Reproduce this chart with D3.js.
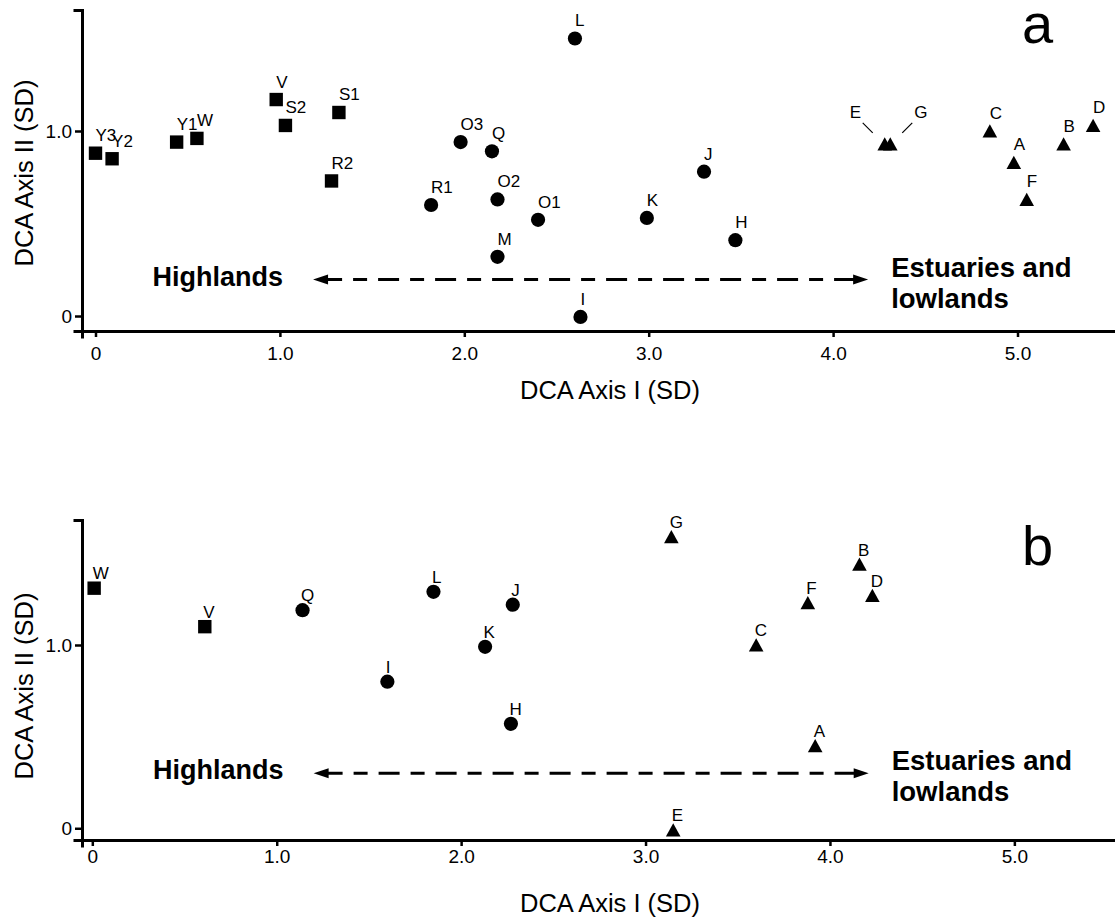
<!DOCTYPE html>
<html>
<head>
<meta charset="utf-8">
<script src="https://cdn.jsdelivr.net/npm/d3@7"></script>
<style>
  body { margin: 0; background: #fff; }
  text { font-family: "Liberation Sans", Arial, sans-serif; fill: #000; }
  .axis .domain { stroke-width: 3; stroke-linecap: square; }
  .axis .tick line { stroke-width: 2.5; }
  .axis .tick text { font-size: 19px; }
</style>
</head>
<body>
<div id="chart"></div>
<script>
// ---- panel a : all sites ----
var siteA  = ["Y3","Y2","Y1","W","V","S2","S1","R2",
              "L","O3","Q","R1","O2","O1","M","I","K","J","H",
              "E","G","C","A","F","B","D"];
var axis1A = [0.00,0.09,0.44,0.55,0.98,1.03,1.32,1.28,
              2.60,1.98,2.15,1.82,2.18,2.40,2.18,2.63,2.99,3.30,3.47,
              4.28,4.31,4.85,4.98,5.05,5.25,5.41];
var axis2A = [0.88,0.85,0.94,0.96,1.17,1.03,1.10,0.73,
              1.50,0.94,0.89,0.60,0.63,0.52,0.32,-0.005,0.53,0.78,0.41,
              0.93,0.93,1.00,0.83,0.63,0.93,1.03];
var groupA = ["upper","upper","upper","upper","upper","upper","upper","upper",
              "middle","middle","middle","middle","middle","middle","middle","middle","middle","middle","middle",
              "lower","lower","lower","lower","lower","lower","lower"];

// ---- panel b : subset of sites ----
var siteB  = ["W","V","Q","I","L","J","K","H","G","C","E","B","D","F","A"];
var axis1B = [0.01,0.61,1.14,1.60,1.85,2.28,2.13,2.27,3.14,3.60,3.15,4.16,4.23,3.88,3.92];
var axis2B = [1.31,1.10,1.19,0.80,1.29,1.22,0.99,0.57,1.59,1.00,-0.01,1.44,1.27,1.23,0.45];
var groupB = ["upper","upper","middle","middle","middle","middle","middle","middle",
              "lower","lower","lower","lower","lower","lower","lower"];

var xTicks = [0, 1, 2, 3, 4, 5];
var xTickLabels = ["0", "1.0", "2.0", "3.0", "4.0", "5.0"];
var yTicks = [0, 1];
var yTickLabels = ["0", "1.0"];

var W = 1115, H = 918;
var svg = d3.select("#chart").append("svg")
    .attr("width", W)
    .attr("height", H);

svg.append("rect").attr("width", W).attr("height", H).attr("fill", "#fff");

function shapePath(group) {
    if (group == "upper") return "M-6.7,-6.7H6.7V6.7H-6.7Z";
    if (group == "lower") return "M0,-6.8L7.3,6.5L-7.3,6.5Z";
    return d3.symbol().type(d3.symbolCircle).size(Math.PI * 7.1 * 7.1)();
}

function drawPanel(p) {
    var x = d3.scaleLinear().domain(p.xDomain).range([82, 1118]);
    var y = d3.scaleLinear().domain(p.yDomain).range([p.bottom, p.top]);
    var g = svg.append("g");

    g.append("g")
        .attr("class", "axis")
        .attr("transform", "translate(0," + p.bottom + ")")
        .call(d3.axisBottom(x).tickValues(xTicks)
              .tickFormat(function(d, i) { return xTickLabels[i]; })
              .tickSizeOuter(0).tickSize(6).tickPadding(p.xPad));

    g.append("g")
        .attr("class", "axis")
        .attr("transform", "translate(82,0)")
        .call(d3.axisLeft(y).tickValues(yTicks)
              .tickFormat(function(d, i) { return yTickLabels[i]; })
              .tickSizeOuter(0).tickSize(7).tickPadding(3));

    g.selectAll(".axis .tick text").attr("fill", "#000");

    // axis titles
    g.append("text")
        .attr("x", 610).attr("y", p.xTitleY)
        .attr("text-anchor", "middle")
        .attr("font-size", 25.5)
        .text("DCA Axis I (SD)");
    g.append("text")
        .attr("transform", "translate(33," + p.yTitleY + ") rotate(-90)")
        .attr("text-anchor", "middle")
        .attr("font-size", 25.5)
        .text("DCA Axis II (SD)");

    // panel letter
    g.append("text")
        .attr("x", 1022).attr("y", p.letterY)
        .attr("font-size", 56)
        .text(p.letter);

    // gradient arrow
    var ay = y(p.arrowY), ax1 = x(p.arrowX[0]), ax2 = x(p.arrowX[1]);
    g.append("line")
        .attr("x1", ax1 + 8).attr("x2", ax2 - 8)
        .attr("y1", ay).attr("y2", ay)
        .attr("stroke", "#000").attr("stroke-width", 3)
        .attr("stroke-dasharray", "21,11,14,11");
    g.append("path")
        .attr("d", "M" + ax1 + "," + ay + "l15,-5v10z")
        .attr("fill", "#000");
    g.append("path")
        .attr("d", "M" + ax2 + "," + ay + "l-15,-5v10z")
        .attr("fill", "#000");
    g.append("text")
        .attr("x", ax1 - 30).attr("y", ay + 6)
        .attr("text-anchor", "end")
        .attr("font-size", 27).attr("font-weight", "bold")
        .text("Highlands");
    var est = g.append("text")
        .attr("x", ax2 + 23).attr("y", ay - 3)
        .attr("font-size", 27.5).attr("font-weight", "bold");
    est.append("tspan").attr("x", ax2 + 23).text("Estuaries and");
    est.append("tspan").attr("x", ax2 + 23).attr("dy", 31).text("lowlands");

    // points
    g.selectAll(".pt")
        .data(p.sites)
        .enter().append("path")
        .attr("class", "pt")
        .attr("transform", function(d, i) { return "translate(" + x(p.ax1[i]) + "," + y(p.ax2[i]) + ")"; })
        .attr("d", function(d, i) { return shapePath(p.groups[i]); })
        .attr("fill", "#000");

    // labels
    g.selectAll(".lbl")
        .data(p.sites)
        .enter().append("text")
        .attr("class", "lbl")
        .attr("font-size", 17)
        .attr("x", function(d, i) {
            var cx = x(p.ax1[i]);
            if (p.callout && p.callout[d] == "left") return cx - 35;
            if (p.callout && p.callout[d] == "right") return cx + 24;
            return cx + p.labDx;
        })
        .attr("y", function(d, i) {
            var cy = y(p.ax2[i]);
            if (p.callout && p.callout[d]) return cy - 26;
            return cy + p.labDy;
        })
        .text(function(d) { return d; });

    if (p.callout) {
        p.sites.forEach(function(d, i) {
            var side = p.callout[d];
            if (!side) return;
            var cx = x(p.ax1[i]), cy = y(p.ax2[i]);
            var s = side == "left" ? -1 : 1;
            g.append("line")
                .attr("x1", cx + s * 12).attr("y1", cy - 11)
                .attr("x2", cx + s * 22).attr("y2", cy - 21)
                .attr("stroke", "#000").attr("stroke-width", 1.2);
        });
    }
}

drawPanel({
    sites: siteA, ax1: axis1A, ax2: axis2A, groups: groupA,
    xDomain: [-0.0732, 5.545], yDomain: [-0.081, 1.654],
    top: 10, bottom: 331, xPad: 10, xTitleY: 399, yTitleY: 173,
    letter: "a", letterY: 43,
    arrowX: [1.18, 4.19], arrowY: 0.197,
    labDx: 0, labDy: -12,
    callout: { E: "left", G: "right" }
});

drawPanel({
    sites: siteB, ax1: axis1B, ax2: axis2B, groups: groupB,
    xDomain: [-0.0559, 5.562], yDomain: [-0.064, 1.682],
    top: 520, bottom: 840, xPad: 4, xTitleY: 912, yTitleY: 686,
    letter: "b", letterY: 565,
    arrowX: [1.2, 4.21], arrowY: 0.30,
    labDx: -1.5, labDy: -8.7
});
</script>
</body>
</html>
